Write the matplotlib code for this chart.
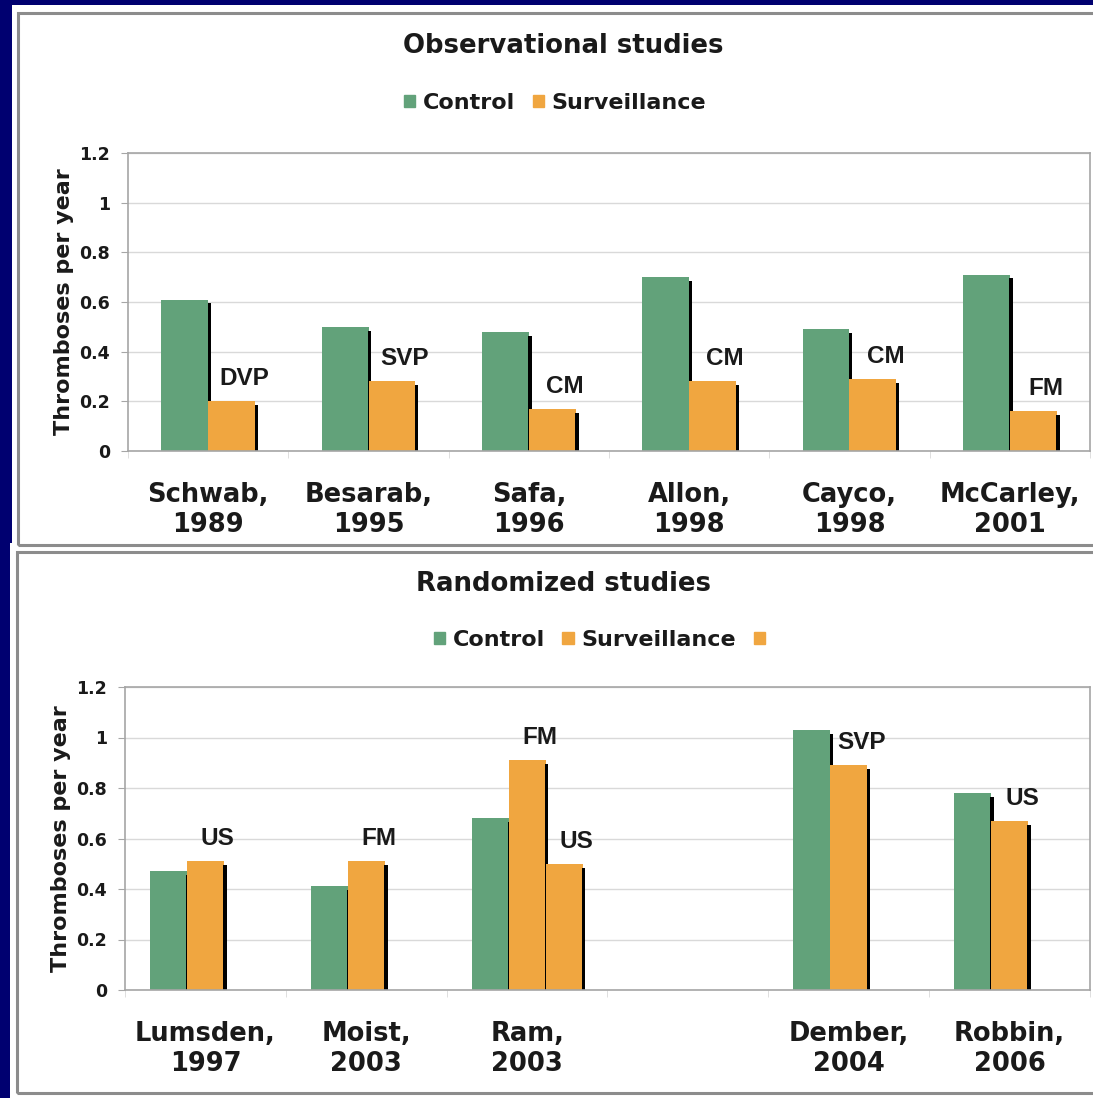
import matplotlib
matplotlib.use("Agg")
import matplotlib.pyplot as plt
from matplotlib.patches import Rectangle, Patch
import numpy as np

# ---------------- data ----------------
obs_studies = ["Schwab,\n1989", "Besarab,\n1995", "Safa,\n1996", "Allon,\n1998", "Cayco,\n1998", "McCarley,\n2001"]
obs_control = [0.61, 0.50, 0.48, 0.70, 0.49, 0.71]
obs_surv = [0.20, 0.28, 0.17, 0.28, 0.29, 0.16]
obs_method = ["DVP", "SVP", "CM", "CM", "CM", "FM"]

rnd_studies = ["Lumsden,\n1997", "Moist,\n2003", "Ram,\n2003", "", "Dember,\n2004", "Robbin,\n2006"]
rnd_control = [0.47, 0.41, 0.68, None, 1.03, 0.78]
rnd_surv = [0.51, 0.51, 0.91, None, 0.89, 0.67]
rnd_surv2 = [None, None, 0.50, None, None, None]
rnd_method = ["US", "FM", "FM", "", "SVP", "US"]
rnd_method2 = [None, None, "US", None, None, None]

yticks = [0, 0.2, 0.4, 0.6, 0.8, 1.0, 1.2]
ytick_labels = ["0", "0.2", "0.4", "0.6", "0.8", "1", "1.2"]

# ---------------- style ----------------
W, H = 1093, 1098
NAVY = "#000070"
GREEN = "#62a27a"
ORANGE = "#f0a640"
TXT = "#1a1a1a"
GRID = "#d9d9d9"
FRAME = "#a6a6a6"

fig = plt.figure(figsize=(W / 100, H / 100), dpi=100)
fig.patch.set_facecolor(NAVY)


def fx(px):
    return px / W


def fy(py):
    return 1 - py / H


def panel(x0, y0, x1, y1, bx0, by0, bx1, by1):
    fig.patches.append(Rectangle((fx(x0), fy(y1)), fx(x1 - x0), (y1 - y0) / H,
                                 transform=fig.transFigure, facecolor="white",
                                 edgecolor="none", zorder=-2))
    fig.patches.append(Rectangle((fx(bx0), fy(by1)), fx(bx1 - bx0), (by1 - by0) / H,
                                 transform=fig.transFigure, facecolor="none",
                                 edgecolor="#8c8c8c", linewidth=2.2, zorder=-1))


panel(12, 5, 1093, 545, 18, 13, 1110, 545)
panel(10, 543, 1093, 1098, 17, 552, 1110, 1093)


def make_axes(left, right, top, bottom):
    ax = fig.add_axes([fx(left), fy(bottom), fx(right - left), (bottom - top) / H])
    ax.set_zorder(5)
    ax.set_facecolor("white")
    for s in ax.spines.values():
        s.set_color(FRAME)
        s.set_linewidth(1.2)
    ax.set_ylim(0, 1.2)
    ax.set_xlim(-0.5, 5.5)
    ax.set_yticks(yticks)
    ax.set_yticklabels(ytick_labels, fontsize=12.5, fontweight="bold", color=TXT,
                       family="DejaVu Sans")
    ax.yaxis.grid(True, color=GRID, linewidth=1.0)
    ax.set_axisbelow(True)
    ax.tick_params(axis="y", length=5, color=FRAME, pad=8)
    ax.set_xticks(np.arange(6))
    ax.tick_params(axis="x", length=0, pad=22)
    ax.set_xticks(np.arange(-0.5, 6, 1), minor=True)
    ax.tick_params(axis="x", which="minor", length=5, color=GRID)
    ax.set_ylabel("Thromboses per year", fontsize=16, fontweight="bold",
                  color=TXT, labelpad=4, family="DejaVu Sans")
    return ax


def draw_bar(ax, x, v, w, color):
    if v is None:
        return
    ax.bar(x, v, width=w, color=color, linewidth=0, zorder=2)
    sw = 0.022
    ax.bar(x + w / 2 + sw / 2 - 0.004, v - 0.015, width=sw, color="black",
           linewidth=0, zorder=2)


def label(ax, x, v, txt):
    ax.annotate(txt, (x, v), xytext=(9, 8), textcoords="offset points",
                ha="center", va="bottom", fontsize=17.5, fontweight="bold",
                color=TXT, family="Liberation Sans", zorder=3)


# ---------------- top panel ----------------
ax1 = make_axes(128, 1090, 153, 451)
w1 = 0.293
x = np.arange(len(obs_studies))
for i in range(len(x)):
    draw_bar(ax1, x[i] - w1 / 2, obs_control[i], w1, GREEN)
    draw_bar(ax1, x[i] + w1 / 2, obs_surv[i], w1, ORANGE)
    label(ax1, x[i] + w1 / 2, obs_surv[i], obs_method[i])
ax1.set_xticklabels(obs_studies, fontsize=18.5, fontweight="bold", color=TXT,
                    linespacing=1.2, family="DejaVu Sans")

fig.text(fx(563), fy(46), "Observational studies", ha="center", va="center",
         fontsize=18.7, fontweight="bold", color=TXT, family="DejaVu Sans")
h1 = [Patch(color=GREEN, label="Control"), Patch(color=ORANGE, label="Surveillance")]
fig.legend(handles=h1, loc="center", bbox_to_anchor=(fx(555), fy(103)), ncol=2,
           frameon=False, handlelength=0.5, handleheight=0.5, handletextpad=0.35,
           columnspacing=0.8, prop={"size": 16, "weight": "bold", "family": "DejaVu Sans"},
           labelcolor=TXT)

# ---------------- bottom panel ----------------
ax2 = make_axes(125, 1090, 687, 990)
w2 = 0.23
x = np.arange(len(rnd_studies))
for i in range(len(x)):
    draw_bar(ax2, x[i] - w2, rnd_control[i], w2, GREEN)
    draw_bar(ax2, x[i], rnd_surv[i], w2, ORANGE)
    draw_bar(ax2, x[i] + w2, rnd_surv2[i], w2, ORANGE)
    if rnd_method[i]:
        label(ax2, x[i], rnd_surv[i], rnd_method[i])
    if rnd_method2[i]:
        label(ax2, x[i] + w2, rnd_surv2[i], rnd_method2[i])
ax2.set_xticklabels(rnd_studies, fontsize=18.5, fontweight="bold", color=TXT,
                    linespacing=1.2, family="DejaVu Sans")

fig.text(fx(563), fy(584), "Randomized studies", ha="center", va="center",
         fontsize=18.7, fontweight="bold", color=TXT, family="DejaVu Sans")
h2 = [Patch(color=GREEN, label="Control"), Patch(color=ORANGE, label="Surveillance"),
      Patch(color=ORANGE, label=" ")]
fig.legend(handles=h2, loc="center", bbox_to_anchor=(fx(607), fy(640)), ncol=3,
           frameon=False, handlelength=0.5, handleheight=0.5, handletextpad=0.35,
           columnspacing=0.8, prop={"size": 16, "weight": "bold", "family": "DejaVu Sans"},
           labelcolor=TXT)

fig.savefig("out.png", dpi=100, facecolor=NAVY)
